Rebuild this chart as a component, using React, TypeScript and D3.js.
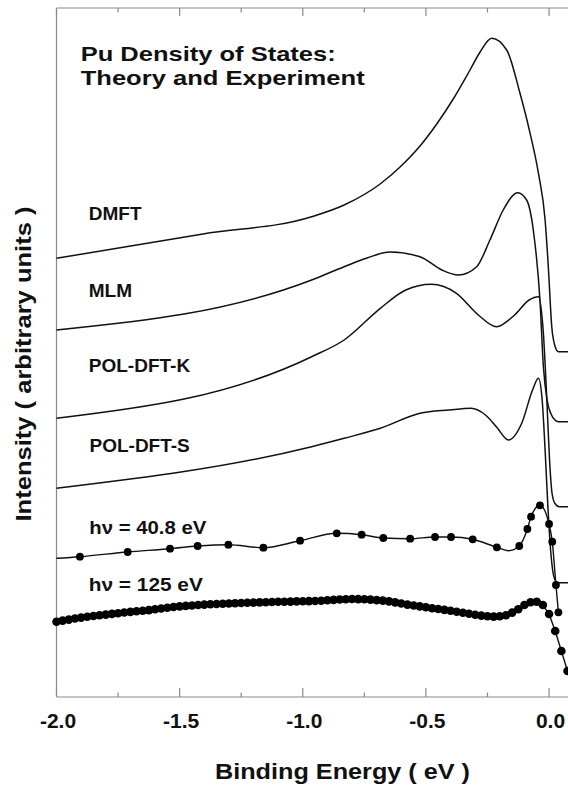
import React from 'react';
import * as d3 from 'd3';

const W = 568;
const H = 785;

// x axis ticks (binding energy, eV)
const xTicksMajor = [-2.0, -1.5, -1.0, -0.5, 0.0];
const xTicksMinor = [-1.75, -1.25, -0.75, -0.25];
const xTickLabels = ['-2.0', '-1.5', '-1.0', '-0.5', '0.0'];

// DMFT
const dmftE = [-2.0, -1.405, -0.964, -0.832, -0.686, -0.605, -0.524, -0.456, -0.389, -0.321, -0.28, -0.233, -0.172, -0.118, -0.077, -0.043, -0.016, -0.003, 0.011, 0.024, 0.038, 0.081];
const dmftI = [43.87, 46.3, 48.03, 49.2, 51.3, 53.0, 55.1, 57.3, 59.8, 62.7, 64.5, 65.87, 64.7, 60.37, 56.37, 52.37, 47.7, 43.03, 37.03, 35.1, 34.53, 34.53];

// MLM
const mlmE = [-2.0, -0.964, -0.832, -0.739, -0.646, -0.524, -0.435, -0.368, -0.294, -0.24, -0.186, -0.127, -0.091, -0.064, -0.037, -0.023, -0.008, 0.008, 0.024, 0.038, 0.081];
const mlmI = [36.7, 41.7, 43.03, 43.9, 44.5, 44.03, 42.7, 42.2, 43.03, 45.7, 48.7, 50.43, 49.7, 46.7, 39.7, 33.03, 29.7, 28.3, 27.7, 27.53, 27.53];

// POL-DFT-K
const polKE = [-2.0, -0.964, -0.832, -0.685, -0.582, -0.478, -0.376, -0.287, -0.213, -0.14, -0.081, -0.043, -0.023, -0.009, 0.002, 0.012, 0.024, 0.041, 0.081];
const polKI = [27.87, 34.03, 35.7, 38.87, 40.7, 41.27, 40.37, 38.2, 37.03, 38.2, 39.7, 40.03, 36.37, 29.7, 23.7, 20.4, 19.35, 19.03, 19.03];

// POL-DFT-S
const polSE = [-2.0, -0.964, -0.832, -0.685, -0.524, -0.405, -0.317, -0.258, -0.214, -0.165, -0.111, -0.067, -0.043, -0.028, -0.016, -0.004, 0.008, 0.02, 0.035, 0.081];
const polSI = [20.87, 25.03, 25.87, 26.87, 28.37, 28.7, 28.87, 28.2, 27.03, 25.7, 27.37, 30.7, 31.87, 29.7, 24.7, 18.7, 14.2, 12.0, 11.43, 11.43];

// hv = 40.8 eV : smooth line and measured points
const hv40LineE = [-2.0, -1.905, -1.711, -1.539, -1.427, -1.302, -1.16, -1.011, -0.862, -0.761, -0.673, -0.564, -0.463, -0.398, -0.31, -0.212, -0.165, -0.121, -0.088, -0.073, -0.037, 0.0, 0.013, 0.028, 0.038];
const hv40LineI = [13.87, 14.03, 14.5, 14.83, 15.1, 15.23, 14.93, 15.63, 16.37, 16.23, 15.9, 15.83, 16.0, 16.0, 15.77, 14.97, 14.63, 15.1, 16.8, 18.03, 19.17, 17.3, 15.53, 11.2, 8.47];
const hv40DotE = [-1.905, -1.711, -1.539, -1.427, -1.302, -1.16, -1.011, -0.862, -0.761, -0.673, -0.564, -0.463, -0.398, -0.31, -0.212, -0.121, -0.088, -0.073, -0.037, 0.0, 0.013, 0.028, 0.038];
const hv40DotI = [14.03, 14.5, 14.83, 15.1, 15.23, 14.93, 15.63, 16.37, 16.23, 15.9, 15.83, 16.0, 16.0, 15.77, 14.97, 15.1, 16.8, 18.03, 19.17, 17.3, 15.53, 11.2, 8.47];

// hv = 125 eV : measured points
const hv125E = [
  -2.0, -1.975, -1.95, -1.925, -1.9, -1.875, -1.85, -1.825, -1.8, -1.775,
  -1.75, -1.725, -1.7, -1.675, -1.65, -1.625, -1.6, -1.575, -1.55, -1.525,
  -1.5, -1.475, -1.45, -1.425, -1.4, -1.375, -1.35, -1.325, -1.3, -1.275,
  -1.25, -1.225, -1.2, -1.175, -1.15, -1.125, -1.1, -1.075, -1.05, -1.025,
  -1.0, -0.975, -0.95, -0.925, -0.9, -0.875, -0.85, -0.825, -0.8, -0.775,
  -0.75, -0.725, -0.7, -0.675, -0.65, -0.625, -0.6, -0.575, -0.55, -0.525,
  -0.5, -0.475, -0.45, -0.425, -0.4, -0.375, -0.35, -0.325, -0.3, -0.275,
  -0.25, -0.225, -0.2, -0.175, -0.15, -0.125, -0.1, -0.075, -0.05, -0.025,
  0.0, 0.025, 0.05, 0.075,
];
const hv125I = [
  7.53, 7.64, 7.74, 7.85, 7.94, 8.02, 8.1, 8.17, 8.24, 8.31,
  8.38, 8.45, 8.51, 8.57, 8.63, 8.69, 8.77, 8.85, 8.93, 9.0,
  9.06, 9.11, 9.15, 9.2, 9.24, 9.27, 9.3, 9.33, 9.35, 9.38,
  9.4, 9.42, 9.44, 9.46, 9.48, 9.5, 9.52, 9.53, 9.54, 9.56,
  9.57, 9.59, 9.6, 9.63, 9.67, 9.71, 9.75, 9.78, 9.8, 9.79,
  9.77, 9.74, 9.69, 9.64, 9.56, 9.46, 9.35, 9.24, 9.15, 9.06,
  8.97, 8.88, 8.8, 8.71, 8.62, 8.52, 8.42, 8.33, 8.23, 8.14,
  8.07, 8.04, 8.07, 8.18, 8.44, 8.77, 9.2, 9.47, 9.53, 9.2,
  8.3, 6.6, 4.6, 2.6,
];

const curveLabels = ['DMFT', 'MLM', 'POL-DFT-K', 'POL-DFT-S', 'h\u03bd = 40.8 eV', 'h\u03bd  = 125 eV'];
const titleLines = ['Pu Density of States:', 'Theory and Experiment'];
const xTitle = 'Binding Energy ( eV )';
const yTitle = 'Intensity ( arbitrary units )';

const FONT = '"Liberation Sans", Arial, Helvetica, sans-serif';

function zip(a: number[], b: number[]): [number, number][] {
  return a.map((v, i) => [v, b[i]] as [number, number]);
}

export default function App() {
  const x = d3.scaleLinear().domain([-2, 0.081]).range([56.5, 569]);
  const y = d3.scaleLinear().domain([0, 68.9]).range([697, 8]);
  const [y0, y1] = y.range();
  const [x0, x1] = x.range();

  const smooth = d3
    .line<[number, number]>()
    .x((d) => x(d[0]))
    .y((d) => y(d[1]))
    .curve(d3.curveMonotoneX);
  const straight = d3
    .line<[number, number]>()
    .x((d) => x(d[0]))
    .y((d) => y(d[1]));

  const theory = [
    zip(dmftE, dmftI),
    zip(mlmE, mlmI),
    zip(polKE, polKI),
    zip(polSE, polSI),
  ];

  const labelPos = [
    { x: 88.8, y: 220, len: 0 },
    { x: 88.8, y: 296.7, len: 0 },
    { x: 88.8, y: 371.7, len: 0 },
    { x: 89.5, y: 451.7, len: 0 },
    { x: 89.3, y: 534, len: 117 },
    { x: 88.8, y: 590.5, len: 114 },
  ];

  const frameColor = '#8a8a8a';

  return (
    <svg
      width={W}
      height={H}
      viewBox={`0 0 ${W} ${H}`}
      style={{ position: 'absolute', left: 0, top: 0, background: '#fff' }}
    >
      <rect x={0} y={0} width={W} height={H} fill="#fff" />
      {/* frame */}
      <line x1={x0} x2={x1} y1={y0} y2={y0} stroke={frameColor} strokeWidth={1.2} />
      <line x1={x0} x2={x1} y1={y1} y2={y1} stroke={frameColor} strokeWidth={1.2} />
      <line x1={x0} x2={x0} y1={y1} y2={y0} stroke={frameColor} strokeWidth={1.2} />
      {/* ticks */}
      {xTicksMajor.map((t) => (
        <g key={'M' + t}>
          <line x1={x(t)} x2={x(t)} y1={y0} y2={y0 - 9} stroke={frameColor} strokeWidth={1.2} />
          <line x1={x(t)} x2={x(t)} y1={y1} y2={y1 + 8} stroke={frameColor} strokeWidth={1.2} />
        </g>
      ))}
      {xTicksMinor.map((t) => (
        <g key={'m' + t}>
          <line x1={x(t)} x2={x(t)} y1={y0} y2={y0 - 4.5} stroke={frameColor} strokeWidth={1.2} />
          <line x1={x(t)} x2={x(t)} y1={y1} y2={y1 + 4.5} stroke={frameColor} strokeWidth={1.2} />
        </g>
      ))}
      {xTicksMajor.map((t, i) => (
        <text
          key={'l' + t}
          x={x(t) + 1.5}
          y={728}
          textAnchor="middle"
          fontFamily={FONT}
          fontWeight="bold"
          fontSize={21}
          fill="#111"
        >
          {xTickLabels[i]}
        </text>
      ))}
      {/* axis titles */}
      <text
        x={342.5}
        y={779}
        textAnchor="middle"
        fontFamily={FONT}
        fontWeight="bold"
        fontSize={22}
        textLength={255}
        lengthAdjust="spacingAndGlyphs"
        fill="#111"
      >
        {xTitle}
      </text>
      <text
        transform={`translate(31,364) rotate(-90)`}
        textAnchor="middle"
        fontFamily={FONT}
        fontWeight="bold"
        fontSize={22}
        textLength={315}
        lengthAdjust="spacingAndGlyphs"
        fill="#111"
      >
        {yTitle}
      </text>
      {/* title */}
      <text x={80.7} y={60.7} fontFamily={FONT} fontWeight="bold" fontSize={20.5} textLength={255} lengthAdjust="spacingAndGlyphs" fill="#111">
        {titleLines[0]}
      </text>
      <text x={80.7} y={85} fontFamily={FONT} fontWeight="bold" fontSize={20.5} textLength={284} lengthAdjust="spacingAndGlyphs" fill="#111">
        {titleLines[1]}
      </text>
      {/* curve labels */}
      {curveLabels.map((s, i) => (
        <text
          key={s}
          x={labelPos[i].x}
          y={labelPos[i].y}
          fontFamily={FONT}
          fontWeight="bold"
          fontSize={19}
          fill="#111"
          {...(labelPos[i].len ? { textLength: labelPos[i].len, lengthAdjust: 'spacingAndGlyphs' } : {})}
        >
          {s}
        </text>
      ))}
      {/* theory curves */}
      {theory.map((d, i) => (
        <path key={i} d={smooth(d) || ''} fill="none" stroke="#111" strokeWidth={1.5} />
      ))}
      {/* 40.8 eV */}
      <path d={smooth(zip(hv40LineE, hv40LineI)) || ''} fill="none" stroke="#111" strokeWidth={1.4} />
      {hv40DotE.map((e, i) => (
        <circle key={'a' + i} cx={x(e)} cy={y(hv40DotI[i])} r={3.9} fill="#000" />
      ))}
      {/* 125 eV */}
      <path d={straight(zip(hv125E, hv125I)) || ''} fill="none" stroke="#111" strokeWidth={1.4} />
      {hv125E.map((e, i) => (
        <circle key={'b' + i} cx={x(e)} cy={y(hv125I[i])} r={4.3} fill="#000" />
      ))}
    </svg>
  );
}
